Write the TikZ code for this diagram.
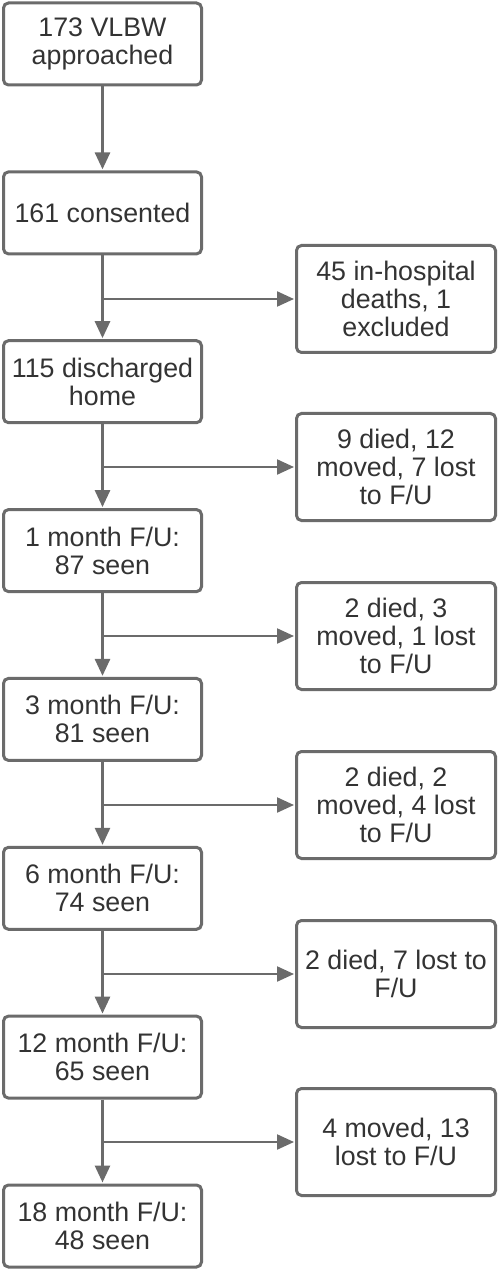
\documentclass[tikz,border=0pt]{standalone}
\usepackage{fontspec}
\setmainfont{Liberation Sans}
\usetikzlibrary{arrows.meta}
\definecolor{boxgray}{HTML}{6B6B6B}
\definecolor{txtgray}{HTML}{333333}
\tikzset{
  stage/.style={draw=boxgray, line width=1.5pt, rounded corners=2.5pt,
    minimum width=99pt, minimum height=41pt, align=center, text=txtgray,
    font=\fontsize{13.4}{14}\selectfont},
  lossbox/.style={stage, minimum width=99.5pt, minimum height=53.5pt},
  flow/.style={draw=boxgray, line width=1.4pt,
    -{Triangle[length=8.5pt,width=7.5pt]}, shorten >=0.5pt},
  side/.style={flow, line width=1.1pt}
}
\begin{document}
\begin{tikzpicture}[x=0.5pt,y=-0.5pt]
  \useasboundingbox (0,0) rectangle (500,1272);
  \draw
    (102.5,44.0) node[stage] (a0){173 VLBW\\approached}
    (102.5,212.9) node[stage] (a1){161 consented}
    (102.5,381.7) node[stage] (a2){115 discharged\\home}
    (102.5,550.6) node[stage] (a3){1 month F/U:\\87 seen}
    (102.5,719.4) node[stage] (a4){3 month F/U:\\81 seen}
    (102.5,888.3) node[stage] (a5){6 month F/U:\\74 seen}
    (102.5,1057.1) node[stage] (a6){12 month F/U:\\65 seen}
    (102.5,1226.0) node[stage] (a7){18 month F/U:\\48 seen};
  \draw
    (396,299.0) node[lossbox] (l1){45 in-hospital\\deaths, 1\\excluded}
    (396,467.0) node[lossbox] (l2){9 died, 12\\moved, 7 lost\\to F/U}
    (396,636.0) node[lossbox] (l3){2 died, 3\\moved, 1 lost\\to F/U}
    (396,805.0) node[lossbox] (l4){2 died, 2\\moved, 4 lost\\to F/U}
    (396,974.0) node[lossbox] (l5){2 died, 7 lost to\\F/U}
    (396,1142.0) node[lossbox] (l6){4 moved, 13\\lost to F/U};
  \coordinate (j1) at (a1 |- l1);
  \coordinate (j2) at (a2 |- l2);
  \coordinate (j3) at (a3 |- l3);
  \coordinate (j4) at (a4 |- l4);
  \coordinate (j5) at (a5 |- l5);
  \coordinate (j6) at (a6 |- l6);
  \begin{scope}[flow]
    \draw (a0) to (a1);
    \draw (a1) to (a2);
    \draw (a2) to (a3);
    \draw (a3) to (a4);
    \draw (a4) to (a5);
    \draw (a5) to (a6);
    \draw (a6) to (a7);
  \end{scope}
  \begin{scope}[side]
    \draw (j1) to (l1);
    \draw (j2) to (l2);
    \draw (j3) to (l3);
    \draw (j4) to (l4);
    \draw (j5) to (l5);
    \draw (j6) to (l6);
  \end{scope}
\end{tikzpicture}
\end{document}
